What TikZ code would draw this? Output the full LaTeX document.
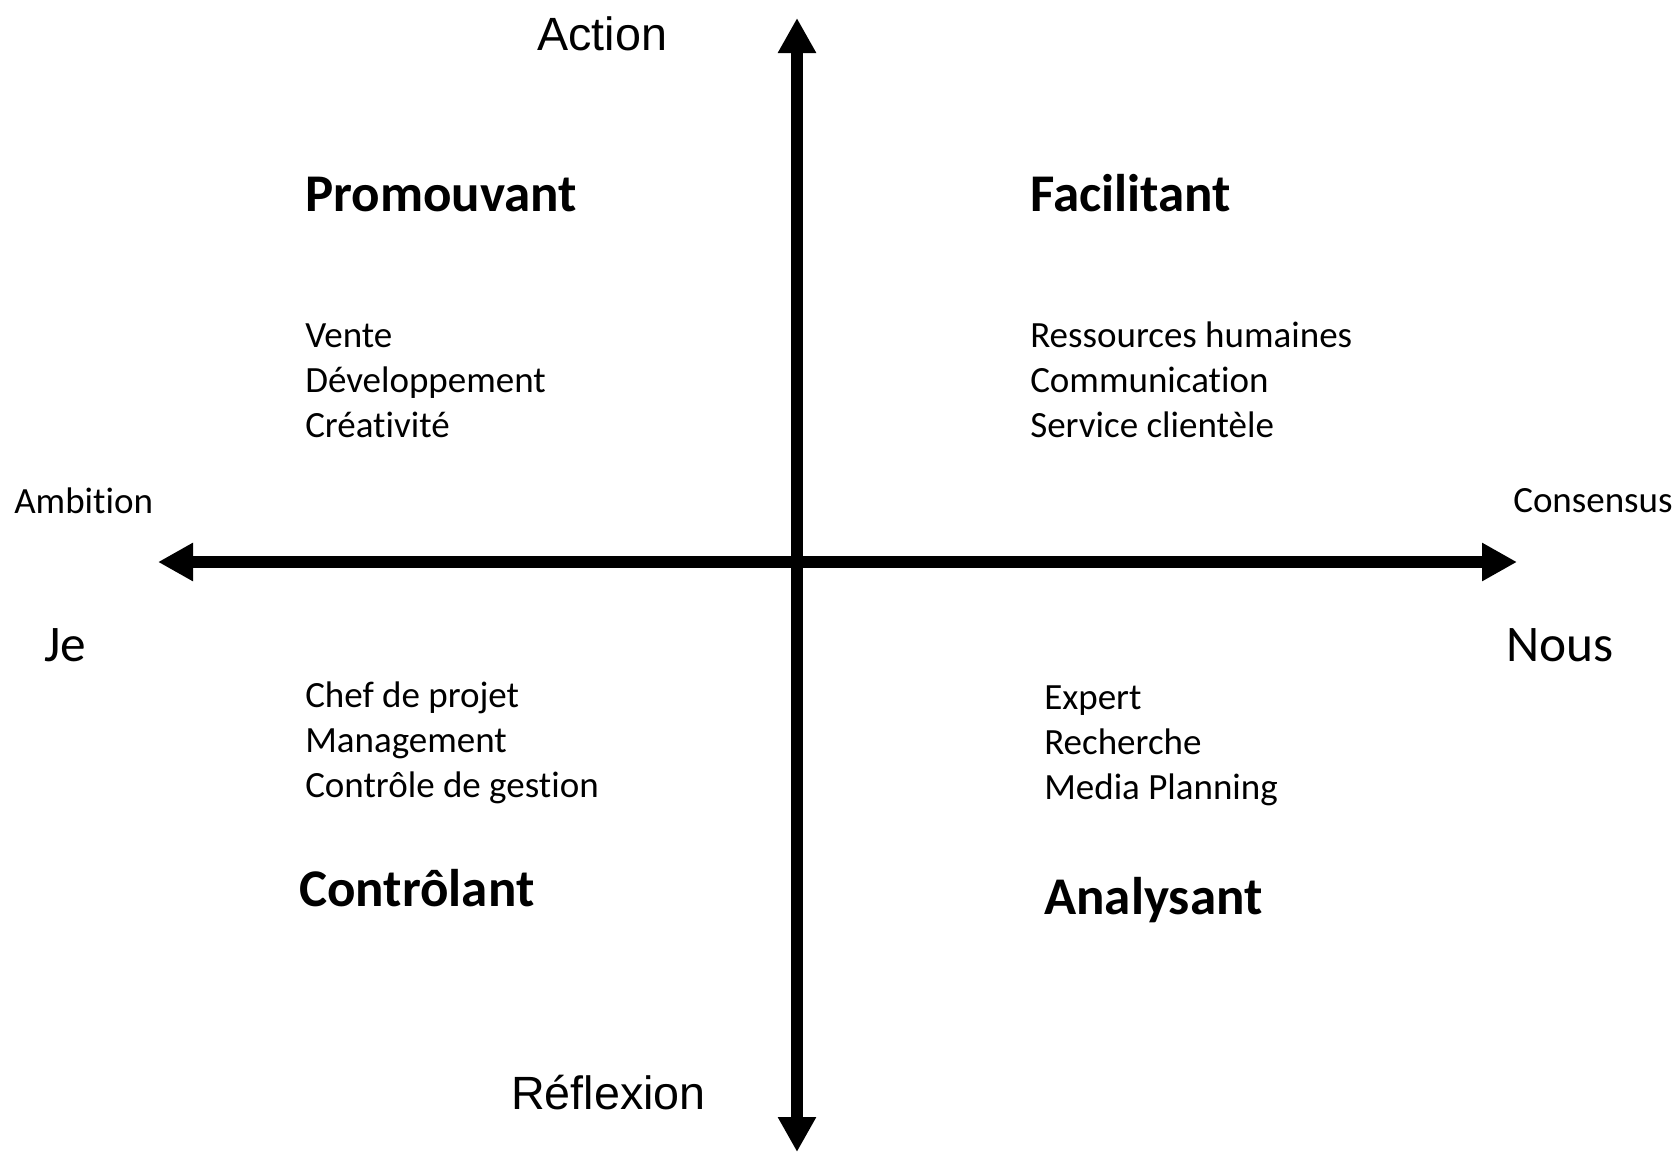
\documentclass[tikz,border=0pt]{standalone}
\usepackage{fontspec}
\setmainfont{Carlito}[Ligatures={NoCommon}]
\newfontfamily\arialf{Liberation Sans}
\usetikzlibrary{arrows.meta}
\tikzset{
  axis/.style={line width=9pt, -{Triangle[length=26.25pt,width=27pt]}, black},
  lbl/.style={inner sep=0pt, anchor=base west, align=left},
  listtxt/.style={lbl, font=\fontsize{27.75pt}{33.4pt}\selectfont},
  title/.style={lbl, font=\fontsize{39.75pt}{46pt}\selectfont\bfseries},
  pole/.style={lbl, font=\arialf\fontsize{35pt}{42pt}\selectfont},
  side/.style={lbl, font=\fontsize{38.5pt}{44pt}\selectfont},
}
\begin{document}
\begin{tikzpicture}[x=0.75pt,y=-0.75pt]
\useasboundingbox (0,0) rectangle (1672,1153);
\coordinate (c) at (797,562);
\coordinate (top) at (797,18);
\coordinate (bot) at (797,1152);
\coordinate (lft) at (158,562);
\coordinate (rgt) at (1517,562);
\draw[axis] (c) -- (top);
\draw[axis] (c) -- (bot);
\draw[axis] (c) -- (lft);
\draw[axis] (c) -- (rgt);

\node[pole] (action) at (537,50) {Action};
\node[pole] (reflexion) at (511,1109) {Réflexion};
\node[side] (je) at (44,661) {Je};
\node[side] (nous) at (1506,661) {Nous};
\node[listtxt] (ambition) at (14,513) {Ambition};
\node[listtxt] (consensus) at (1513,512) {Consensus};

\node[title] (promouvant) at (305,211) {Promouvant};
\node[title] (facilitant) at (1030,211) {Facilitant};
\node[title] (controlant) at (299,906) {Contrôlant};
\node[title] (analysant) at (1044,914) {Analysant};

\node[listtxt] (l1) at (305,437) {Vente\\Développement\\Créativité};
\node[listtxt] (l2) at (1030,437) {Ressources humaines\\Communication\\Service clientèle};
\node[listtxt] (l3) at (305,797) {Chef de projet\\Management\\Contrôle de gestion};
\node[listtxt] (l4) at (1044,799) {Expert\\Recherche\\Media Planning};
\end{tikzpicture}
\end{document}
